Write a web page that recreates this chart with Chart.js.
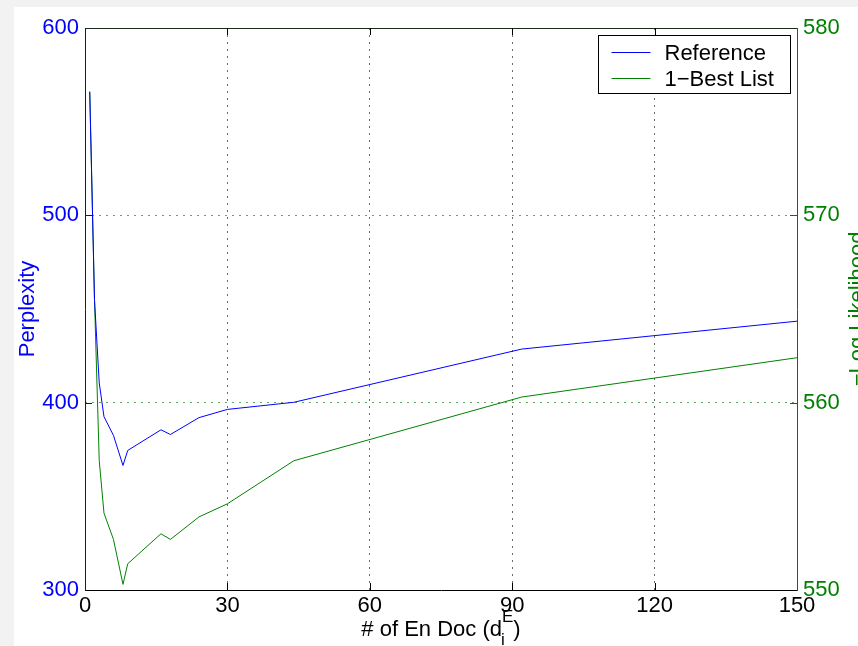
<!DOCTYPE html>
<html>
<head>
<meta charset="utf-8">
<script src="https://cdn.jsdelivr.net/npm/chart.js@4.4.1/dist/chart.umd.min.js"></script>
<style>
body { margin: 0; background: #f2f2f2; }
#frame { position: absolute; left: 14px; top: 7px; width: 844px; height: 639px; background: #fff; overflow: hidden; }
</style>
</head>
<body>
<div id="frame"><canvas id="myChart" width="844" height="639"></canvas></div>
<script>
// data
var docCounts = [1, 2, 3, 4, 6, 8, 9, 16, 18, 24, 30, 44, 92, 150];
var perplexity = [566, 455, 410.5, 392.5, 382.5, 366.5, 374.5, 385.5, 383, 392, 396.4, 400.2, 428.6, 443.5];
var negLogLik = [576.6, 565.5, 556.9, 554.1, 552.7, 550.3, 551.4, 553.0, 552.7, 553.9, 554.6, 556.9, 560.3, 562.4];
var xTicks = [0, 30, 60, 90, 120, 150];
var leftTicks = [300, 400, 500, 600];
var rightTicks = [550, 560, 570, 580];

var FONT = '"Liberation Sans", Arial, Helvetica, sans-serif';
Chart.defaults.font.family = FONT;
Chart.defaults.font.size = 22;

function toPoints(xs, ys) {
    return xs.map(function(x, i) { return { x: x, y: ys[i] }; });
}

function setTicks(list) {
    return function(scale) {
        scale.ticks = list.map(function(v) { return { value: v }; });
    };
}

//////// extras: inner ticks, top border, legend, titles ////////
var matlabDecor = {
    id: 'matlabDecor',
    afterDraw: function(chart) {
        var ctx = chart.ctx;
        var a = chart.chartArea;
        var sx = chart.scales.x, sy = chart.scales.y, sy1 = chart.scales.y1;
        var tl = 7;

        ctx.save();
        ctx.lineWidth = 1;

        // top border
        ctx.strokeStyle = '#1b2b1b';
        ctx.beginPath();
        ctx.moveTo(a.left, a.top + 0.5);
        ctx.lineTo(a.right, a.top + 0.5);
        ctx.stroke();

        // inward tick marks
        ctx.strokeStyle = '#000';
        sx.ticks.forEach(function(t, i) {
            if (i === 0 || i === sx.ticks.length - 1) return;
            var px = Math.round(sx.getPixelForValue(t.value)) + 0.5;
            ctx.beginPath();
            ctx.moveTo(px, a.bottom);
            ctx.lineTo(px, a.bottom - tl);
            ctx.moveTo(px, a.top);
            ctx.lineTo(px, a.top + tl);
            ctx.stroke();
        });
        ctx.strokeStyle = '#0000ff';
        sy.ticks.forEach(function(t, i) {
            if (i === 0 || i === sy.ticks.length - 1) return;
            var py = Math.round(sy.getPixelForValue(t.value)) + 0.5;
            ctx.beginPath();
            ctx.moveTo(a.left, py);
            ctx.lineTo(a.left + tl, py);
            ctx.stroke();
        });
        ctx.strokeStyle = '#1f5f2f';
        sy1.ticks.forEach(function(t, i) {
            if (i === 0 || i === sy1.ticks.length - 1) return;
            var py = Math.round(sy1.getPixelForValue(t.value)) + 0.5;
            ctx.beginPath();
            ctx.moveTo(a.right, py);
            ctx.lineTo(a.right - tl, py);
            ctx.stroke();
        });

        // legend box
        ctx.font = '22px ' + FONT;
        var sets = chart.data.datasets;
        var maxW = 0;
        sets.forEach(function(d) { maxW = Math.max(maxW, ctx.measureText(d.label).width); });
        var boxW = Math.round(13 + 39 + 14 + maxW + 17);
        var boxH = 58;
        var bx = Math.round(a.right - 7 - boxW) + 0.5;
        var by = Math.round(a.top + 7) + 0.5;
        ctx.fillStyle = '#fff';
        ctx.fillRect(bx, by, boxW, boxH);
        ctx.strokeStyle = '#000';
        ctx.strokeRect(bx, by, boxW, boxH);
        ctx.textBaseline = 'middle';
        ctx.textAlign = 'left';
        sets.forEach(function(d, i) {
            var ry = Math.round(by + 16 + i * 26) + 0.5;
            ctx.strokeStyle = d.borderColor;
            ctx.beginPath();
            ctx.moveTo(bx + 13, ry);
            ctx.lineTo(bx + 52, ry);
            ctx.stroke();
            ctx.fillStyle = '#000';
            ctx.fillText(d.label, bx + 66, ry + 1);
        });

        // x title with sub/superscript
        var mainTxt = '# of En Doc (d', supTxt = 'E', subTxt = 'i', endTxt = ')';
        ctx.font = '22px ' + FONT;
        var w1 = ctx.measureText(mainTxt).width;
        var w3 = ctx.measureText(endTxt).width;
        ctx.font = '17px ' + FONT;
        var w2 = Math.max(ctx.measureText(supTxt).width, ctx.measureText(subTxt).width);
        var total = w1 + w2 + w3;
        var x0 = (a.left + a.right) / 2 - total / 2;
        var base = chart.height - 10;
        ctx.fillStyle = '#000';
        ctx.textBaseline = 'alphabetic';
        ctx.font = '22px ' + FONT;
        ctx.fillText(mainTxt, x0, base);
        ctx.fillText(endTxt, x0 + w1 + w2, base);
        ctx.font = '17px ' + FONT;
        ctx.fillText(supTxt, x0 + w1, base - 14);
        ctx.fillText(subTxt, x0 + w1 - 1, base + 9);

        // right title, reads bottom to top, cut by the edge
        ctx.font = '22px ' + FONT;
        ctx.fillStyle = '#008000';
        ctx.textAlign = 'center';
        ctx.translate(chart.width + 6, (a.top + a.bottom) / 2);
        ctx.rotate(-Math.PI / 2);
        ctx.fillText('\u2212Log Likelihood', 0, 0);

        ctx.restore();
    }
};

const config = {
    type: 'line',
    data: {
        datasets: [{
            label: 'Reference',
            data: toPoints(docCounts, perplexity),
            yAxisID: 'y',
            borderColor: '#0000ff',
            borderWidth: 1,
            pointRadius: 0,
            tension: 0
        }, {
            label: '1\u2212Best List',
            data: toPoints(docCounts, negLogLik),
            yAxisID: 'y1',
            borderColor: '#008000',
            borderWidth: 1,
            pointRadius: 0,
            tension: 0
        }]
    },
    options: {
        responsive: false,
        animation: false,
        events: [],
        layout: { padding: { top: 21, left: 0, right: 0, bottom: 0 } },
        plugins: {
            legend: { display: false },
            tooltip: { enabled: false }
        },
        scales: {
            x: {
                type: 'linear',
                min: xTicks[0],
                max: xTicks[xTicks.length - 1],
                afterBuildTicks: setTicks(xTicks),
                afterFit: function(s) { s.height = 56; },
                ticks: { color: '#000', padding: 3, maxRotation: 0, autoSkip: false },
                grid: {
                    drawTicks: false,
                    color: function(c) {
                        return (c.index === 0 || c.index === xTicks.length - 1) ? 'rgba(0,0,0,0)' : '#6a6a6a';
                    },
                    lineWidth: 1
                },
                border: { display: true, color: '#000', width: 1, dash: [2, 5] }
            },
            y: {
                position: 'left',
                min: leftTicks[0],
                max: leftTicks[leftTicks.length - 1],
                afterBuildTicks: setTicks(leftTicks),
                afterFit: function(s) { s.width = 71; },
                ticks: { color: '#0000ff', padding: 6 },
                grid: { display: false, drawTicks: false },
                border: { display: true, color: '#0000ff', width: 1 },
                title: { display: true, text: 'Perplexity', color: '#0000ff', padding: { top: 1, bottom: 0 } }
            },
            y1: {
                position: 'right',
                min: rightTicks[0],
                max: rightTicks[rightTicks.length - 1],
                afterBuildTicks: setTicks(rightTicks),
                afterFit: function(s) { s.width = 61; },
                ticks: { color: '#008000', padding: 6 },
                grid: {
                    drawTicks: false,
                    color: function(c) {
                        return (c.index === 0 || c.index === rightTicks.length - 1) ? 'rgba(0,0,0,0)' : 'rgba(0,128,0,0.65)';
                    },
                    lineWidth: 1
                },
                border: { display: true, color: '#1f5f2f', width: 1, dash: [2, 5] }
            }
        }
    },
    plugins: [matlabDecor]
};

const myChart = new Chart(document.getElementById('myChart'), config);
</script>
</body>
</html>
